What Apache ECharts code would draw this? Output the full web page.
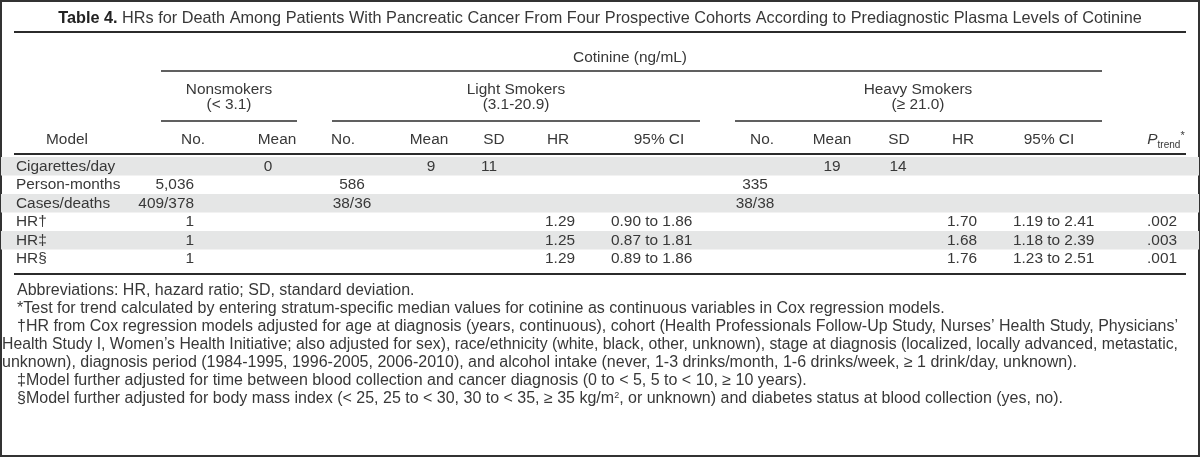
<!DOCTYPE html>
<html><head><meta charset="utf-8">
<script src="https://cdn.jsdelivr.net/npm/echarts@6/dist/echarts.min.js"></script>
<style>html,body{margin:0;padding:0;background:#fff}#c{width:1200px;height:457px}</style>
</head><body><div id="c"></div>
<script>
// ---------- DATA ----------
const titleBold = 'Table 4.';
const titleText = 'HRs for Death Among Patients With Pancreatic Cancer From Four Prospective Cohorts According to Prediagnostic Plasma Levels of Cotinine';
const spanner = 'Cotinine (ng/mL)';
const groupNames = ['Nonsmokers', 'Light Smokers', 'Heavy Smokers'];
const groupRanges = ['(< 3.1)', '(3.1-20.9)', '(≥ 21.0)'];
const colHeaders = ['Model', 'No.', 'Mean', 'No.', 'Mean', 'SD', 'HR', '95% CI', 'No.', 'Mean', 'SD', 'HR', '95% CI', '{p|P}{sub|trend}{sup|*}'];
const rows = ['Cigarettes/day', 'Person-months', 'Cases/deaths', 'HR†', 'HR‡', 'HR§'];
const nonNo    = ['', '5,036', '409/378', '1', '1', '1'];
const nonMean  = ['0', '', '', '', '', ''];
const lightNo  = ['', '586', '38/36', '', '', ''];
const lightMean= ['9', '', '', '', '', ''];
const lightSD  = ['11', '', '', '', '', ''];
const lightHR  = ['', '', '', '1.29', '1.25', '1.29'];
const lightCI  = ['', '', '', '0.90 to 1.86', '0.87 to 1.81', '0.89 to 1.86'];
const heavyNo  = ['', '335', '38/38', '', '', ''];
const heavyMean= ['19', '', '', '', '', ''];
const heavySD  = ['14', '', '', '', '', ''];
const heavyHR  = ['', '', '', '1.70', '1.68', '1.76'];
const heavyCI  = ['', '', '', '1.19 to 2.41', '1.18 to 2.39', '1.23 to 2.51'];
const pTrend   = ['', '', '', '.002', '.003', '.001'];
const shadedRows = [0, 2, 4];
const footnotes = [
  'Abbreviations: HR, hazard ratio; SD, standard deviation.',
  '*Test for trend calculated by entering stratum-specific median values for cotinine as continuous variables in Cox regression models.',
  '†HR from Cox regression models adjusted for age at diagnosis (years, continuous), cohort (Health Professionals Follow-Up Study, Nurses’ Health Study, Physicians’',
  'Health Study I, Women’s Health Initiative; also adjusted for sex), race/ethnicity (white, black, other, unknown), stage at diagnosis (localized, locally advanced, metastatic,',
  'unknown), diagnosis period (1984-1995, 1996-2005, 2006-2010), and alcohol intake (never, 1-3 drinks/month, 1-6 drinks/week, ≥ 1 drink/day, unknown).',
  '‡Model further adjusted for time between blood collection and cancer diagnosis (0 to < 5, 5 to < 10, ≥ 10 years).',
  '§Model further adjusted for body mass index (< 25, 25 to < 30, 30 to < 35, ≥ 35 kg/m{sup|2}, or unknown) and diabetes status at blood collection (yes, no).'
];

// ---------- LAYOUT / STYLE ----------
const FONT = 'Liberation Sans, Arial, sans-serif';
const FW = 400;
const INK = '#383838';
const bodyColumns = [rows, nonNo, nonMean, lightNo, lightMean, lightSD, lightHR, lightCI, heavyNo, heavyMean, heavySD, heavyHR, heavyCI, pTrend];
const colAnchor = [[16,'left'],[194,'right'],[268,'center'],[352,'center'],[431,'center'],[489,'center'],[575,'right'],[611,'left'],[755,'center'],[832,'center'],[898,'center'],[977,'right'],[1013,'left'],[1177,'right']];
const headerX = [67,193,277,343,429,494,558,659,762,832,899,963,1049,1166];
const groupX = [229, 516, 918];
const groupLines = [[161,297],[332,700],[735,1102]];
const footLeft = [17,17,17,2,2,17,17];
const footJustifyRight = [null,null,1178,1178,null,null,null];

const ctx = document.createElement('canvas').getContext('2d');
function measure(t, size, weight) {
  ctx.font = (weight || FW) + ' ' + size + 'px ' + FONT;
  return ctx.measureText(t.replace(/\{sup\|(.*?)\}/g, '$1')).width;
}
// font sizes fitted to the reference's text extents
const FOOT_SIZE = Math.min(16, Math.max(13, 14 * 945 / measure(footnotes[1], 14)));
const BODY_SIZE = FOOT_SIZE - 0.6;
const TITLE_SIZE = Math.min(17, Math.max(14, 15 * 1085 / (measure(titleBold + ' ', 15, 700) + measure(titleText, 15))));

const cellData = [], cellText = [];
bodyColumns.forEach((col, c) => col.forEach((v, r) => {
  if (v !== '') { cellData.push([colAnchor[c][0], r, c]); cellText.push(v); }
}));

const txt = (x, y, text, size, align, extra) => ({
  type: 'text', x: x, y: y, silent: true,
  style: Object.assign({ text: text, fill: INK, fontFamily: FONT, fontWeight: FW, fontSize: size, align: align || 'center', verticalAlign: 'middle' }, extra || {})
});
const hline = (x1, x2, y, w) => ({ type: 'line', silent: true, shape: { x1: x1, y1: y, x2: x2, y2: y }, style: { stroke: '#2b2b2b', lineWidth: w } });

const graphics = [];
graphics.push({ type: 'rect', silent: true, shape: { x: 1, y: 1, width: 1198, height: 455 }, style: { fill: null, stroke: '#333', lineWidth: 2 } });
graphics.push(txt(600, 19, '{b|' + titleBold + '} ' + titleText, TITLE_SIZE, 'center', { rich: { b: { fontWeight: 'bold', fontSize: TITLE_SIZE, fontFamily: FONT, fill: '#222' } } }));
graphics.push(hline(14, 1186, 32, 2));
graphics.push(txt(630, 58, spanner, BODY_SIZE));
graphics.push(hline(161, 1102, 71, 1.5));
groupNames.forEach((g, i) => {
  graphics.push(txt(groupX[i], 90, g, BODY_SIZE));
  graphics.push(txt(groupX[i], 105, groupRanges[i], BODY_SIZE));
  graphics.push(hline(groupLines[i][0], groupLines[i][1], 121, 1.5));
});
colHeaders.forEach((h, i) => {
  const extra = i === colHeaders.length - 1 ? { rich: {
    p: { fontStyle: 'italic', fontSize: BODY_SIZE, lineHeight: 20, fontFamily: FONT, fontWeight: FW, fill: INK },
    sub: { fontSize: 10, verticalAlign: 'bottom', lineHeight: 12, fontFamily: FONT, fontWeight: FW, fill: INK },
    sup: { fontSize: 11, verticalAlign: 'top', lineHeight: 12, fontFamily: FONT, fontWeight: FW, fill: INK } } } : null;
  graphics.push(txt(headerX[i], 140, h, BODY_SIZE, 'center', extra));
});
graphics.push(hline(14, 1186, 154, 2));
graphics.push(hline(14, 1186, 274, 2));
footnotes.forEach((f, i) => {
  const el = txt(footLeft[i], 291 + 18 * i, f, FOOT_SIZE, 'left', { rich: { sup: { fontSize: 9, verticalAlign: 'top', lineHeight: 10, fontFamily: FONT, fontWeight: FW, fill: INK } } });
  if (footJustifyRight[i]) { el.scaleX = (footJustifyRight[i] - footLeft[i]) / measure(f, FOOT_SIZE); }
  graphics.push(el);
});

const chart = echarts.init(document.getElementById('c'), null, { renderer: 'canvas' });
chart.setOption({
  animation: false,
  backgroundColor: '#fff',
  grid: { left: 0, right: 0, top: 157, bottom: 189, containLabel: false },
  xAxis: { type: 'value', min: 0, max: 1200, show: false },
  yAxis: { type: 'category', data: rows, inverse: true, show: false },
  graphic: { elements: graphics },
  series: [
    {
      type: 'custom', silent: true, clip: false, z: 1,
      data: shadedRows.map(r => [0, r]),
      renderItem: function (params, api) {
        const a = api.coord([1, api.value(1)]);
        const b = api.coord([1199, api.value(1)]);
        const h = api.size([0, 1])[1];
        return { type: 'rect', shape: { x: a[0], y: a[1] - h / 2, width: b[0] - a[0], height: h }, style: { fill: '#e5e6e6' } };
      }
    },
    {
      type: 'custom', silent: true, clip: false, z: 2,
      data: cellData,
      renderItem: function (params, api) {
        const p = api.coord([api.value(0), api.value(1)]);
        const c = api.value(2);
        return { type: 'text', x: p[0], y: p[1], style: { text: cellText[params.dataIndex], fill: INK, fontFamily: FONT, fontWeight: FW, fontSize: BODY_SIZE, align: colAnchor[c][1], verticalAlign: 'middle' } };
      }
    }
  ]
});
</script></body></html>
